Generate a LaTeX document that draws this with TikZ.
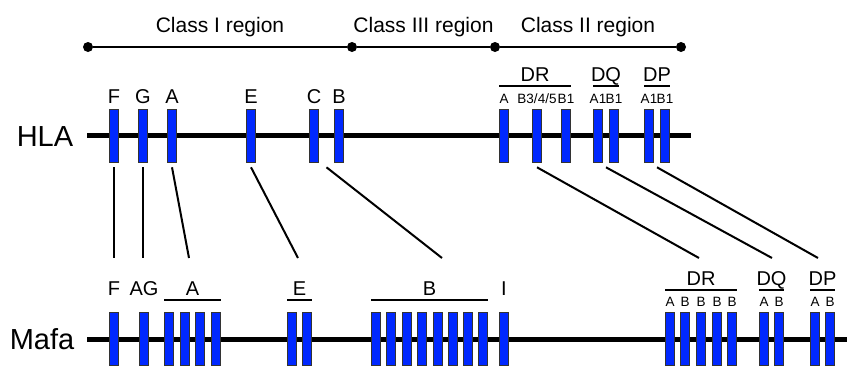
\documentclass[tikz,border=0pt]{standalone}
\usepackage{fontspec}
\setmainfont{Liberation Sans}
\usetikzlibrary{calc}
\definecolor{geneblue}{RGB}{0,40,255}

\begin{document}
\begin{tikzpicture}[x=1pt,y=-1pt,
        gene/.style={draw=black!80,fill=geneblue,line width=0.6pt,minimum width=9pt,minimum height=53pt,inner sep=0pt},
        chrom/.style={line width=5pt},
        region/.style={line width=2.5pt},
        link/.style={line width=2pt},
        bar/.style={line width=1.8pt},
        dot/.style={circle,fill=black,inner sep=0pt,minimum size=10pt},
        rlab/.style={above=6pt,font=\fontsize{21}{21}\selectfont,inner sep=3pt},
        glab/.style={font=\fontsize{20}{20}\selectfont,inner sep=2pt,text depth=0pt},
        slab/.style={font=\fontsize{13.5}{13.5}\selectfont,inner sep=2pt,text depth=0pt},
        mlab/.style={font=\fontsize{13.5}{13.5}\selectfont,inner sep=2pt,text depth=0pt},
        species/.style={font=\fontsize{29}{29}\selectfont,anchor=base}]
    \useasboundingbox (0,0) rectangle (847,365);

    %%% Regions
    \node[dot] (r0) at (88,47) {};
    \node[dot] (r1) at (352,47) {};
    \node[dot] (r2) at (495,47) {};
    \node[dot] (r3) at (681,47) {};
    \draw[region] (r0) -- node[rlab] {Class I region} (r1)
                       -- node[rlab] {Class III region} (r2)
                       -- node[rlab] {Class II region} (r3);

    %%% HLA
    \node[species] (hla) at (45,146) {HLA};
    \coordinate (hl) at (87,135.5);
    \coordinate (hr) at (691,135.5);
    \draw[chrom] (hl) -- (hr);

    \node[gene,label={[glab,label distance=3pt]above:F}] (hF) at (114,135.5) {};
    \node[gene,label={[glab,label distance=3pt]above:G}] (hG) at (143,135.5) {};
    \node[gene,label={[glab,label distance=3pt]above:A}] (hA) at (172,135.5) {};
    \node[gene,label={[glab,label distance=3pt]above:E}] (hE) at (251,135.5) {};
    \node[gene,label={[glab,label distance=3pt]above:C}] (hC) at (314,135.5) {};
    \node[gene,label={[glab,label distance=3pt]above:B}] (hB) at (339,135.5) {};
    \node[gene,label={[slab,label distance=3pt]above:A}] (hDRA) at (504,135.5) {};
    \node[gene,label={[slab,label distance=3pt]above:B3/4/5}] (hDRB3) at (537,135.5) {};
    \node[gene,label={[slab,label distance=3pt]above:B1}] (hDRB1) at (566,135.5) {};
    \node[gene,label={[slab,label distance=3pt]above:A1}] (hDQA1) at (598,135.5) {};
    \node[gene,label={[slab,label distance=3pt]above:B1}] (hDQB1) at (614,135.5) {};
    \node[gene,label={[slab,label distance=3pt]above:A1}] (hDPA1) at (649,135.5) {};
    \node[gene,label={[slab,label distance=3pt]above:B1}] (hDPB1) at (665,135.5) {};

    \draw[bar] ([yshift=23pt]hDRA.north west) -- node[glab,above=1pt] {DR} ([yshift=23pt]hDRB1.north east);
    \draw[bar] ([yshift=23pt]hDQA1.north west) -- node[glab,above=1pt] {DQ} ([yshift=23pt]hDQB1.north east);
    \draw[bar] ([yshift=23pt]hDPA1.north west) -- node[glab,above=1pt] {DP} ([yshift=23pt]hDPB1.north east);

    %%% Mafa
    \node[species] (mafa) at (42,349) {Mafa};
    \coordinate (ml) at (87,339);
    \coordinate (mr) at (847,339);
    \draw[chrom] (ml) -- (mr);

    \node[gene,label={[glab,label distance=14pt]above:F}] (mF) at (114,338.5) {};
    \node[gene,label={[glab,label distance=14pt]above:AG}] (mAG) at (144,338.5) {};
    \node[gene] (mA1) at (169,338.5) {};
    \node[gene] (mA2) at (185,338.5) {};
    \node[gene] (mA3) at (200,338.5) {};
    \node[gene] (mA4) at (216,338.5) {};
    \node[gene] (mE1) at (292,338.5) {};
    \node[gene] (mE2) at (307,338.5) {};
    \node[gene] (mB1) at (376,338.5) {};
    \node[gene] (mB2) at (391,338.5) {};
    \node[gene] (mB3) at (407,338.5) {};
    \node[gene] (mB4) at (422,338.5) {};
    \node[gene] (mB5) at (438,338.5) {};
    \node[gene] (mB6) at (453,338.5) {};
    \node[gene] (mB7) at (468,338.5) {};
    \node[gene] (mB8) at (483,338.5) {};
    \node[gene,label={[glab,label distance=14pt]above:I}] (mI) at (504,338.5) {};
    \node[gene,label={[mlab,label distance=3pt]above:A}] (mDRA) at (670,338.5) {};
    \node[gene,label={[mlab,label distance=3pt]above:B}] (mDRB1) at (685,338.5) {};
    \node[gene,label={[mlab,label distance=3pt]above:B}] (mDRB2) at (701,338.5) {};
    \node[gene,label={[mlab,label distance=3pt]above:B}] (mDRB3) at (717,338.5) {};
    \node[gene,label={[mlab,label distance=3pt]above:B}] (mDRB4) at (732,338.5) {};
    \node[gene,label={[mlab,label distance=3pt]above:A}] (mDQA) at (764,338.5) {};
    \node[gene,label={[mlab,label distance=3pt]above:B}] (mDQB) at (779,338.5) {};
    \node[gene,label={[mlab,label distance=3pt]above:A}] (mDPA) at (815,338.5) {};
    \node[gene,label={[mlab,label distance=3pt]above:B}] (mDPB) at (830,338.5) {};

    \draw[bar] ([yshift=12pt]mA1.north west) -- node[glab,above=1pt] {A} ([yshift=12pt]mA4.north east);
    \draw[bar] ([yshift=12pt]mE1.north west) -- node[glab,above=1pt] {E} ([yshift=12pt]mE2.north east);
    \draw[bar] ([yshift=12pt]mB1.north west) -- node[glab,above=1pt] {B} ([yshift=12pt]mB8.north east);
    \draw[bar] ([yshift=22pt]mDRA.north west) -- node[glab,above=1pt] {DR} ([yshift=22pt]mDRB4.north east);
    \draw[bar] ([yshift=22pt]mDQA.north west) -- node[glab,above=1pt] {DQ} ([yshift=22pt]mDQB.north east);
    \draw[bar] ([yshift=22pt]mDPA.north west) -- node[glab,above=1pt] {DP} ([yshift=22pt]mDPB.north east);

    %%% Orthologues
    \coordinate (eF) at (114,258);
    \coordinate (eG) at (143,258);
    \coordinate (eA) at (189,258);
    \coordinate (eE) at (298,258);
    \coordinate (eB) at (442,258);
    \coordinate (eDR) at (699,258);
    \coordinate (eDQ) at (772,258);
    \coordinate (eDP) at (818,258);

    \draw[link] ([yshift=-5pt]hF.south) -- (eF);
    \draw[link] ([yshift=-5pt]hG.south) -- (eG);
    \draw[link] ([yshift=-5pt]hA.south) -- (eA);
    \draw[link] ([yshift=-5pt]hE.south) -- (eE);
    \draw[link] ($(hC.south)!0.5!(hB.south)+(0,5)$) -- (eB);
    \draw[link] ([yshift=-5pt]hDRB3.south) -- (eDR);
    \draw[link] ($(hDQA1.south)!0.5!(hDQB1.south)+(0,5)$) -- (eDQ);
    \draw[link] ($(hDPA1.south)!0.5!(hDPB1.south)+(0,5)$) -- (eDP);
\end{tikzpicture}
\end{document}
